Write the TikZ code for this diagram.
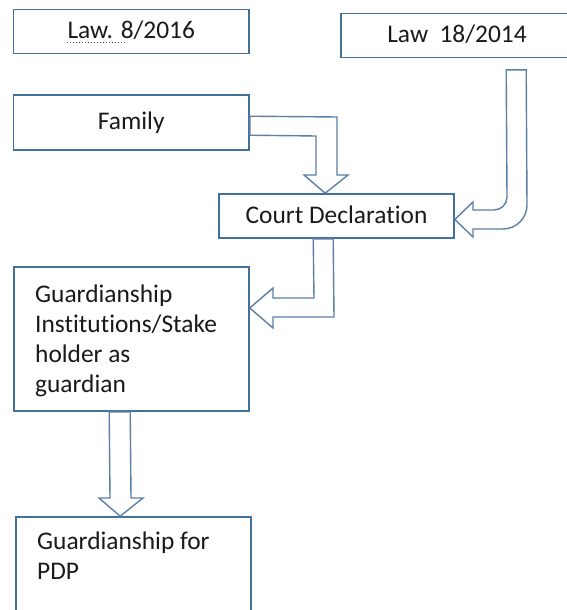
\documentclass[tikz,border=0pt]{standalone}
\usepackage{fontspec}
\setmainfont{Carlito}[Ligatures={NoCommon}]
\usetikzlibrary{calc}
\definecolor{boxblue}{HTML}{41719C}
\definecolor{arrowblue}{HTML}{5B7FA5}
\definecolor{txt}{HTML}{1A1A1A}
\definecolor{spell}{HTML}{3355BB}
\begin{document}
\begin{tikzpicture}[x=1pt,y=-1pt,
  box/.style={draw=boxblue, line width=1.6pt, inner sep=0pt, text=txt,
    font=\fontsize{25.4}{30}\selectfont, text height=18pt, text depth=4pt},
  barrow/.style={draw=arrowblue, line width=1.4pt, line join=miter},
  boxtext/.style={text=txt, font=\fontsize{25.4}{30}\selectfont, align=left,
    inner sep=0pt, anchor=north west}]
\useasboundingbox (0,0) rectangle (566,610);
\fill[white] (0,0) rectangle (566,610);
% boxes
\node[box, minimum width=235.5pt, minimum height=44pt] (law8) at (131.25,31.5) {Law. 8/2016};
\node[box, minimum width=232pt, minimum height=44pt] (law18) at (457,35.5) {Law\ \ 18/2014};
\node[box, minimum width=235.5pt, minimum height=55pt] (family) at (131.25,122.5) {Family};
\node[box, minimum width=235pt, minimum height=44pt] (court) at (336.5,216) {Court Declaration};
\node[box, minimum width=235pt, minimum height=144pt] (guard) at (131.5,339) {};
\node[boxtext] (guardtext) at (35,285) {Guardianship\\Institutions/Stake\\holder as\\guardian};
\node[box, minimum width=235pt, minimum height=120pt] (pdp) at (133.5,577) {};
\node[boxtext] (pdptext) at (37,532) {Guardianship for\\PDP};
% spell-check underline
\draw[spell, dotted, line width=1pt] ($(law8.center)+(-64,11.5)$) -- ($(law8.center)+(-6,11.5)$);
% block arrows
\draw[barrow] ([yshift=-22pt]family.north east) -- (337,117) -- (337,175) -- (348,175)
  -- ($(court.north west)+(107,0)$) -- (304,175) -- (316,175) -- (316,136)
  -- ([yshift=-41pt]family.north east) -- cycle;
\draw[barrow] ($(law18.south west)+(166,11.5)$) -- ($(law18.south west)+(186,11.5)$)
  -- (527,205) .. controls (527,218.2) and (516.2,229) .. (503,229)
  -- (473,229) -- (473,237) -- ([yshift=-3.5pt]court.east) -- (473,202) -- (473,210)
  -- (494,210) .. controls (501.2,210) and (507,204.2) .. (507,197) -- cycle;
\draw[barrow] ($(court.south west)+(95,0)$) -- ($(court.south west)+(115,0)$)
  -- (334,317) -- (273,317) -- (273,328) -- ([yshift=31pt]guard.east)
  -- (273,288) -- (273,298) -- (314,298) -- cycle;
\draw[barrow] ($(guard.south west)+(96,0)$) -- ($(guard.south west)+(117,0)$)
  -- (131,498) -- (143,498) -- ($(pdp.north west)+(105,0)$) -- (99,498) -- (110,498) -- cycle;
\end{tikzpicture}
\end{document}
